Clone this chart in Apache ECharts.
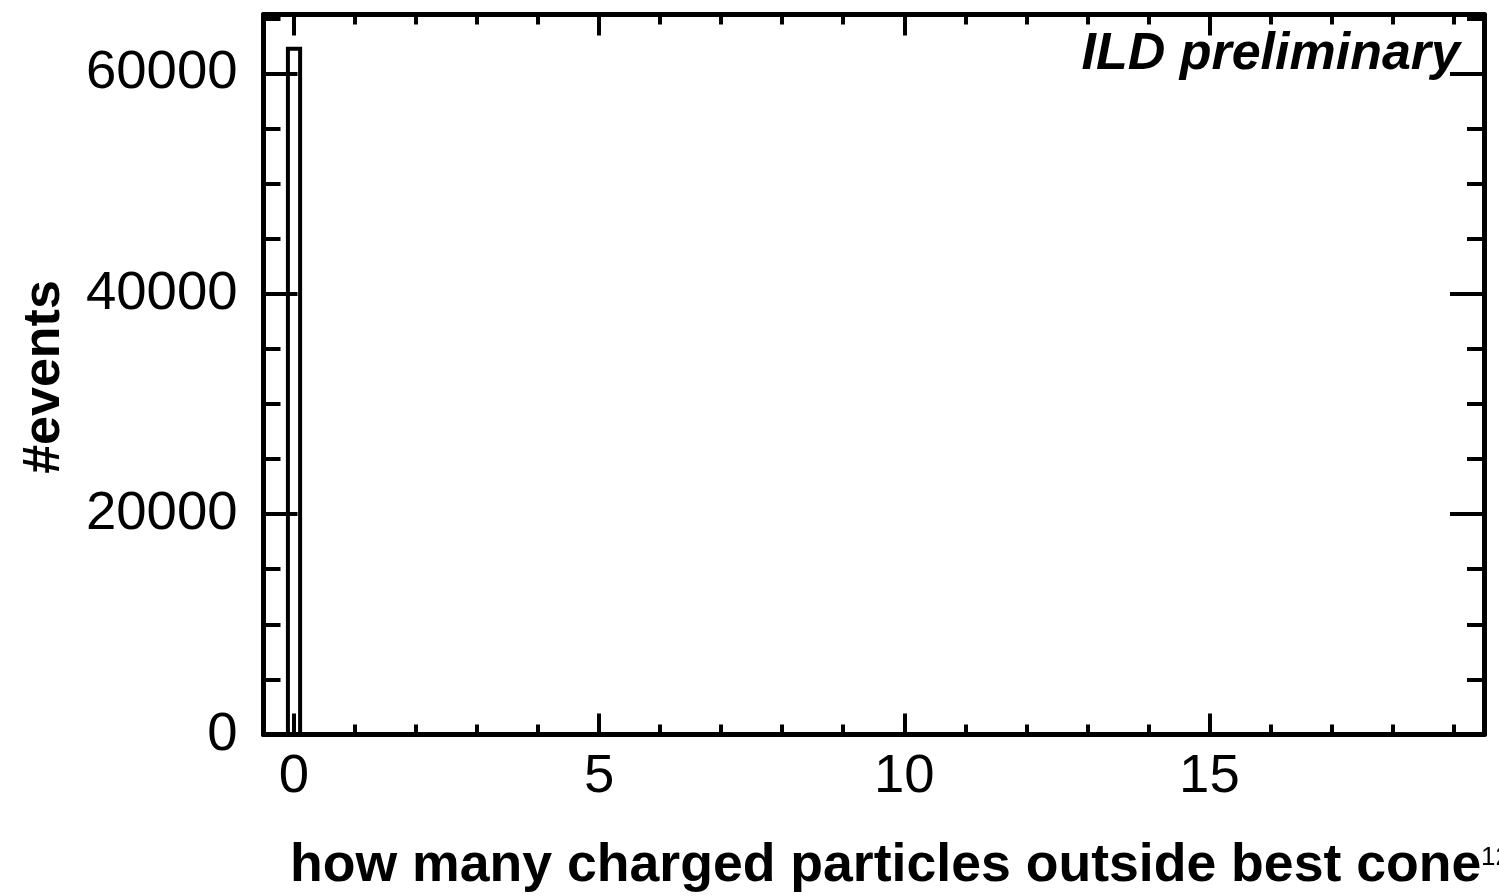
<!DOCTYPE html>
<html>
<head>
<meta charset="utf-8">
<script src="https://cdn.jsdelivr.net/npm/echarts@6/dist/echarts.min.js"></script>
<style>
html,body{margin:0;padding:0;background:#fff;}
#chart{width:1499px;height:896px;}
</style>
</head>
<body>
<div id="chart"></div>
<script>
// ---- data ----
const binLow = [-0.1];
const binHigh = [0.1];
const binCounts = [62240];
const xMajorTicks = [0, 5, 10, 15];
const xMinorTicks = [1, 2, 3, 4, 6, 7, 8, 9, 11, 12, 13, 14, 16, 17, 18, 19];
const yMajorTicks = [0, 20000, 40000, 60000];
const yMinorTicks = [5000, 10000, 15000, 25000, 30000, 35000, 45000, 50000, 55000, 65000];
const xTitle = 'how many charged particles outside best cone';
const yTitle = '#events';
const labelText = 'ILD preliminary';
const cornerText = '12';
const xMin = -0.5, xMax = 19.5, yMin = 0, yMax = 65350;

const FONT = 'Liberation Sans';
const chart = echarts.init(document.getElementById('chart'), null, {renderer: 'canvas'});

function xAx(pos, ticks, len, showLabels, showLine) {
  return {
    type: 'value', position: pos, min: xMin, max: xMax,
    axisLine: {show: showLine, onZero: false, lineStyle: {color: '#000', width: 5}},
    axisTick: {show: true, inside: true, length: len, customValues: ticks, lineStyle: {color: '#000', width: 4}},
    axisLabel: {show: showLabels, customValues: ticks, margin: 15, color: '#000', fontSize: 54.5, fontFamily: FONT,
      formatter: v => String(v)},
    splitLine: {show: false}
  };
}
function yAx(pos, ticks, len, showLabels, showLine) {
  return {
    type: 'value', position: pos, min: yMin, max: yMax,
    axisLine: {show: showLine, onZero: false, lineStyle: {color: '#000', width: 5}},
    axisTick: {show: true, inside: true, length: len, customValues: ticks, lineStyle: {color: '#000', width: 4}},
    axisLabel: {show: showLabels, customValues: ticks, margin: 26, color: '#000', fontSize: 54.5, fontFamily: FONT,
      formatter: v => String(v)},
    splitLine: {show: false}
  };
}

const histData = binCounts.map((c, i) => [binLow[i], binHigh[i], c]);

chart.setOption({
  animation: false,
  backgroundColor: '#fff',
  grid: {left: 263.5, right: 15, top: 14.5, bottom: 161.5, containLabel: false},
  xAxis: [
    xAx('bottom', xMajorTicks, 21, true, true),
    xAx('bottom', xMinorTicks, 10, false, false),
    xAx('top', xMajorTicks, 21, false, true),
    xAx('top', xMinorTicks, 10, false, false)
  ],
  yAxis: [
    yAx('left', yMajorTicks, 34, true, true),
    yAx('left', yMinorTicks, 17, false, false),
    yAx('right', yMajorTicks, 34, false, true),
    yAx('right', yMinorTicks, 17, false, false)
  ],
  series: [{
    type: 'custom',
    xAxisIndex: 0, yAxisIndex: 0,
    clip: false,
    data: histData,
    encode: {x: [0, 1], y: 2},
    renderItem: function (params, api) {
      const p1 = api.coord([api.value(0), api.value(2)]);
      const p2 = api.coord([api.value(1), 0]);
      return {
        type: 'rect',
        shape: {x: p1[0], y: p1[1], width: p2[0] - p1[0], height: p2[1] - p1[1]},
        style: {fill: 'none', stroke: '#000', lineWidth: 4}
      };
    }
  }],
  graphic: [
    {type: 'text', x: 1460, y: 55, style: {text: labelText, textAlign: 'right', textVerticalAlign: 'middle', font: 'italic bold 52px "Liberation Sans"', fill: '#000'}},
    {type: 'text', x: 290, y: 866.5, style: {text: xTitle, textAlign: 'left', textVerticalAlign: 'middle', font: 'bold 53.6px "Liberation Sans"', fill: '#000'}},
    {type: 'text', x: 45, y: 377, rotation: Math.PI / 2, style: {text: yTitle, textAlign: 'center', textVerticalAlign: 'middle', font: 'bold 52px "Liberation Sans"', fill: '#000'}},
    {type: 'text', x: 1481, y: 845, style: {text: cornerText, textAlign: 'left', textVerticalAlign: 'top', font: '26px "Liberation Sans"', fill: '#000'}}
  ]
});
</script>
</body>
</html>
